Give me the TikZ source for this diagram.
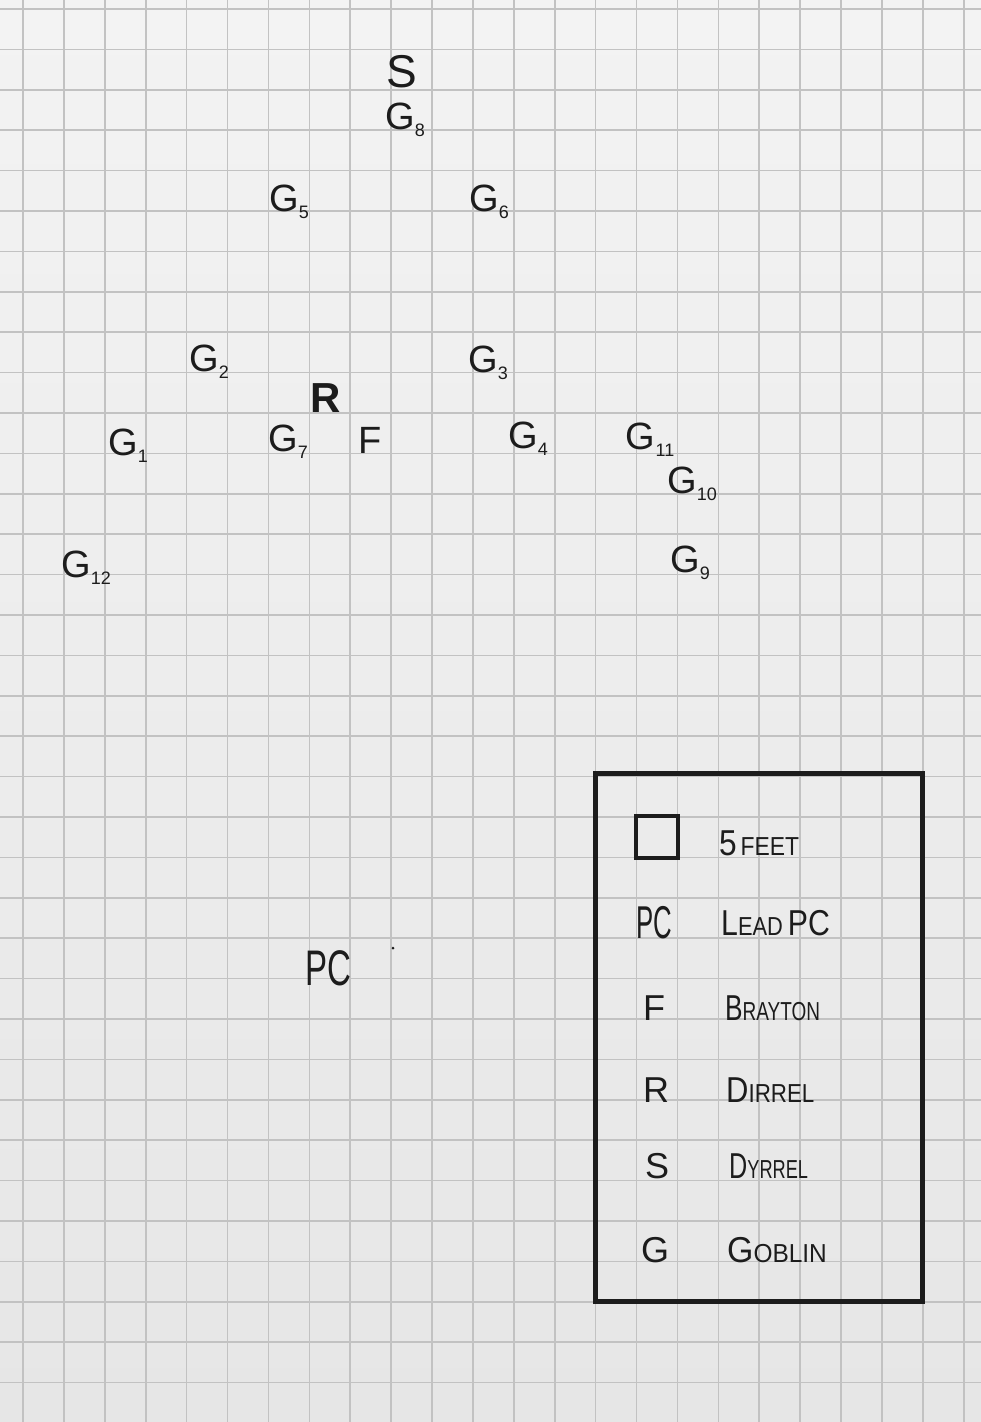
\documentclass[tikz,border=0pt]{standalone}
\usepackage{fontspec}
\setmainfont{Liberation Sans}
\definecolor{paper}{HTML}{F3F3F3}
\definecolor{paperlow}{HTML}{E6E6E6}
\definecolor{gridc}{HTML}{C2C2C2}
\definecolor{ink}{HTML}{1C1C1C}
\newcommand{\gsub}[1]{G\kern0.01em\raisebox{-0.35ex}{\fontsize{18}{18}\selectfont #1}}
\newcommand{\hsc}[2]{{\fontsize{36}{36}\selectfont #1}{\fontsize{26}{26}\selectfont #2}}
\newcommand{\sqz}[2]{\scalebox{#1}[1]{#2}}
\begin{document}
\begin{tikzpicture}[x=1pt,y=-1pt,
  gridline/.style={draw=gridc,line width=1.6pt},
  tok/.style={text=ink,font=\fontsize{38}{38}\selectfont,inner sep=0pt},
  big/.style={text=ink,font=\fontsize{46}{46}\selectfont,inner sep=0pt},
  leg/.style={text=ink,font=\fontsize{36}{36}\selectfont,inner sep=0pt},
  legtxt/.style={text=ink,inner sep=0pt,anchor=west}]
\useasboundingbox (0,0) rectangle (981,1422);
\shade[top color=paper,bottom color=paperlow] (0,0) rectangle (981,1422);
\foreach \k in {0,...,23} \draw[gridline] ({23+40.9*\k},0) -- ({23+40.9*\k},1422);
\foreach \k in {0,...,34} \draw[gridline] (0,{9+40.4*\k}) -- (981,{9+40.4*\k});
% map tokens
\node[big] (S) at (402,72) {S};
\node[tok] (G8) at (405,120) {\gsub{8}};
\node[tok] (G5) at (289,202) {\gsub{5}};
\node[tok] (G6) at (489,202) {\gsub{6}};
\node[tok] (G2) at (209,362) {\gsub{2}};
\node[tok] (G3) at (488,363) {\gsub{3}};
\node[big,font=\bfseries\fontsize{42}{42}\selectfont] (R) at (326,398) {R};
\node[tok] (G1) at (128,446) {\gsub{1}};
\node[tok] (G7) at (288,442) {\gsub{7}};
\node[tok] (F) at (370,440) {F};
\node[tok] (G4) at (528,439) {\gsub{4}};
\node[tok] (G11) at (650,440) {\gsub{11}};
\node[tok] (G10) at (692,484) {\gsub{10}};
\node[tok] (G9) at (690,563) {\gsub{9}};
\node[tok] (G12) at (86,568) {\gsub{12}};
\node[big,font=\fontsize{50}{50}\selectfont] (PC) at (328,968) {\sqz{0.66}{PC}};
\fill[ink] (393,948) circle (1.5);
% legend
\node[draw=ink,line width=5pt,minimum width=327pt,minimum height=528pt,inner sep=0pt] (legend) at (758.5,1037.5) {};
\node[draw=ink,line width=4pt,minimum size=42pt,inner sep=0pt] (sq) at (657,837) {};
\node[leg,font=\fontsize{46}{46}\selectfont] (kPC) at (654,923) {\sqz{0.56}{PC}};
\node[leg] (kF) at (654,1008) {F};
\node[leg] (kR) at (656,1090) {R};
\node[leg] (kS) at (657,1166) {S};
\node[leg] (kG) at (655,1250) {G};
\node[legtxt] (t1) at (719,843) {\sqz{0.88}{\hsc{5}{\,FEET}}};
\node[legtxt] (t2) at (721,923) {\sqz{0.84}{\hsc{L}{EAD}\hsc{\,PC}{}}};
\node[legtxt] (t3) at (725,1008) {\sqz{0.73}{\hsc{B}{RAYTON}}};
\node[legtxt] (t4) at (726,1090) {\sqz{0.86}{\hsc{D}{IRREL}}};
\node[legtxt] (t5) at (729,1166) {\sqz{0.7}{\hsc{D}{YRREL}}};
\node[legtxt] (t6) at (727,1250) {\sqz{0.94}{\hsc{G}{OBLIN}}};
\end{tikzpicture}
\end{document}
